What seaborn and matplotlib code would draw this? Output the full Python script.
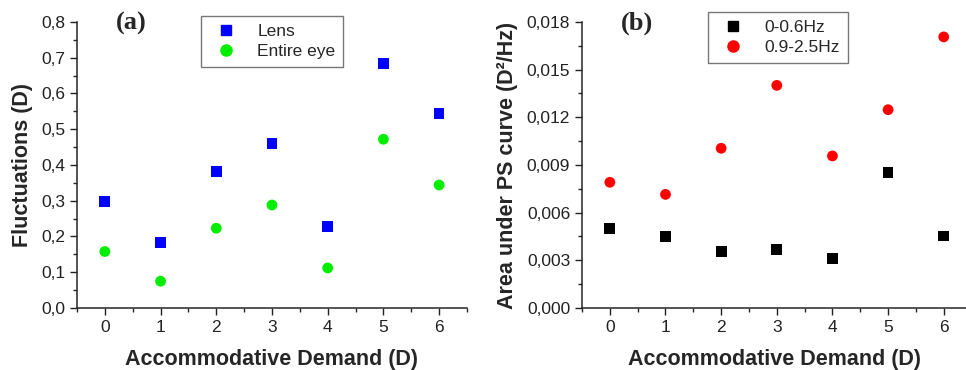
import matplotlib
matplotlib.use('Agg')
import matplotlib.pyplot as plt
import pandas as pd
import seaborn as sns
from matplotlib.ticker import MultipleLocator, FuncFormatter
from matplotlib.lines import Line2D

# data
demand = [0, 1, 2, 3, 4, 5, 6]
lens = [0.298, 0.183, 0.382, 0.460, 0.227, 0.683, 0.545]
entire_eye = [0.158, 0.075, 0.223, 0.288, 0.112, 0.472, 0.344]
low_band = [0.00499, 0.00449, 0.00355, 0.00367, 0.00310, 0.00852, 0.00453]
high_band = [0.00791, 0.00715, 0.01005, 0.01401, 0.00957, 0.01248, 0.01706]

sns.set_style('ticks')
plt.rcParams['font.family'] = ['Liberation Sans', 'DejaVu Sans']

fig = plt.figure(figsize=(9.66, 3.7), dpi=100)
ax1 = fig.add_axes([0.0797, 0.1676, 0.4037, 0.773])
ax2 = fig.add_axes([0.6025, 0.1676, 0.3975, 0.773])

df_a = pd.DataFrame({'x': demand * 2, 'y': lens + entire_eye,
                     'series': ['Lens'] * 7 + ['Entire eye'] * 7})
df_b = pd.DataFrame({'x': demand * 2, 'y': low_band + high_band,
                     'series': ['0-0.6Hz'] * 7 + ['0.9-2.5Hz'] * 7})

def draw(ax, df, names, colors, panel, ylabel, ymax, ystep, fmt, legend_box):
    sns.scatterplot(data=df, x='x', y='y', hue='series', style='series',
                    hue_order=names, style_order=names,
                    palette=dict(zip(names, colors)),
                    markers={names[0]: 's', names[1]: 'o'},
                    s=60, edgecolor='none', legend=False, ax=ax)
    ax.set_xlim(-0.5, 6.4 if ax is ax2 else 6.5)
    ax.set_ylim(0, ymax)
    ax.xaxis.set_major_locator(MultipleLocator(1))
    ax.xaxis.set_minor_locator(MultipleLocator(0.5))
    ax.yaxis.set_major_locator(MultipleLocator(ystep))
    ax.yaxis.set_minor_locator(MultipleLocator(ystep / 2))
    ax.yaxis.set_major_formatter(FuncFormatter(lambda v, p: (fmt % v).replace('.', ',')))
    ax.tick_params(which='major', direction='out', length=5, width=1, labelsize=12.5, colors='#222222')
    ax.tick_params(which='minor', direction='out', length=3, width=1)
    for sp in ['top', 'right']:
        ax.spines[sp].set_visible(False)
    for sp in ['left', 'bottom']:
        ax.spines[sp].set_linewidth(1.1)
    ax.set_xlabel('Accommodative Demand (D)', fontsize=15.5, fontweight='bold', labelpad=10)
    ax.set_ylabel(ylabel, fontsize=15.5, fontweight='bold', labelpad=6)
    ax.text(0.1, 1.035, panel, transform=ax.transAxes, fontsize=19, fontweight='bold',
            family='Liberation Serif', va='top')
    handles = [Line2D([], [], linestyle='none', marker='s', color=colors[0], markersize=7),
               Line2D([], [], linestyle='none', marker='o', color=colors[1], markersize=8)]
    leg = ax.legend(handles, names, loc='upper left', bbox_to_anchor=legend_box,
                    bbox_transform=fig.transFigure, fontsize=12.5, frameon=True,
                    fancybox=False, edgecolor='#555555', handletextpad=0.8,
                    borderpad=0.45, labelspacing=0.3, borderaxespad=0)
    leg.get_frame().set_linewidth(1)

draw(ax1, df_a, ['Lens', 'Entire eye'], ['#0000ff', '#00ee00'], '(a)',
     'Fluctuations (D)', 0.8, 0.1, '%.1f', (0.208, 0.957))
draw(ax2, df_b, ['0-0.6Hz', '0.9-2.5Hz'], ['#000000', '#ff0000'], '(b)',
     'Area under PS curve (D²/Hz)', 0.018, 0.003, '%.3f', (0.733, 0.968))

fig.savefig('out.png', dpi=100)
